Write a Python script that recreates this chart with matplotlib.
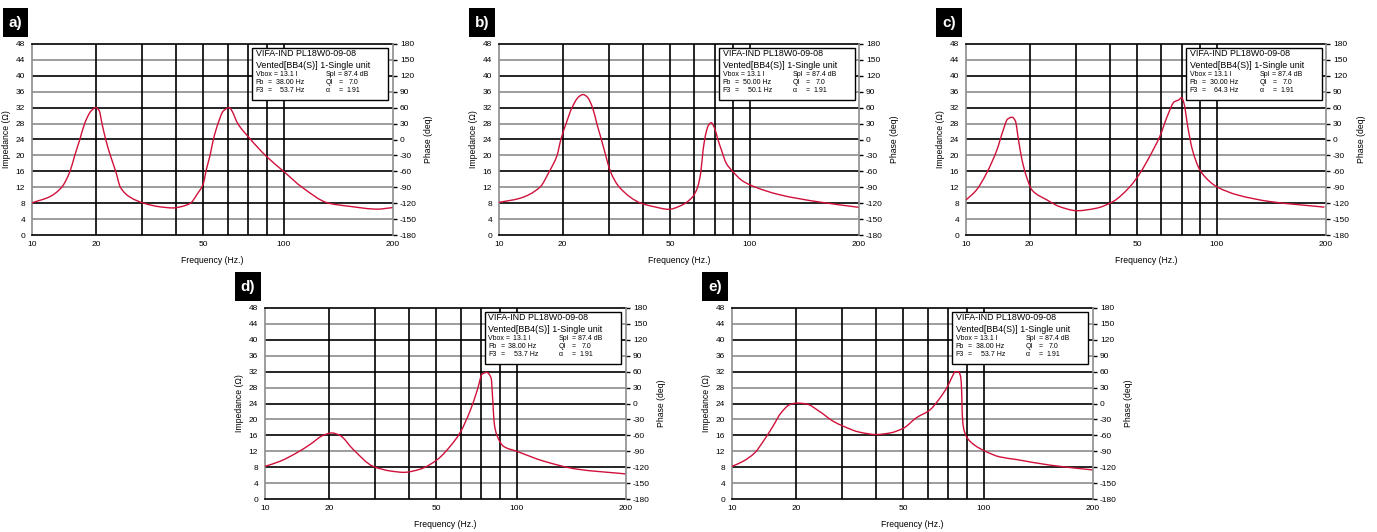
import numpy as np
import matplotlib
matplotlib.use('Agg')
import matplotlib.pyplot as plt
from matplotlib.patches import Rectangle, PathPatch
from matplotlib.path import Path

plt.rcParams['font.family'] = ['Liberation Sans', 'DejaVu Sans']
plt.rcParams['axes.unicode_minus'] = False

# Dados: frequencia (Hz) e impedancia (ohm) de cada painel
freq_a = [10, 12.1, 13.8, 15.1, 15.9, 16.8, 17.7, 19.0, 20.0, 20.6, 21.1, 21.8, 22.7, 23.8, 24.8, 27.0,
          30.4, 34.7, 39.0, 42.0, 44.9, 47.5, 50.0, 50.9, 52.5, 53.8, 55.7, 58.0, 60.6, 62.0, 64.4,
          70.0, 80.0, 100, 112.4, 133, 152, 181, 200]
imp_a = [8.1, 9.6, 12, 16, 20, 24, 28, 31.2, 32, 31.2, 28, 24, 20, 16, 12, 9.5,
         8, 7.1, 6.8, 7.2, 8, 10.3, 13, 16, 20, 24, 28, 31.2, 32, 31.0, 28.2,
         24.7, 19.7, 16, 12, 8, 7.2, 6.5, 6.9]

freq_b = [10, 12.5, 15.6, 17.3, 18.8, 19.6, 20.6, 21.7, 23.0, 23.9, 24.8, 26.0, 27.0, 28.1, 29.2,
          30.4, 32.8, 39.3, 43.9, 49.5, 53.9, 59.2, 61.5, 63.0, 64.1, 65.5, 66.8, 68.2, 70, 71.5,
          73.5, 76.2, 80, 89.4, 100, 121, 152.6, 200]
imp_b = [8.2, 9.2, 12, 16, 20, 24, 28, 32, 34.7, 35.3, 34.7, 32, 28, 24, 20,
         16, 12, 8, 7.1, 6.45, 7.3, 9.6, 12.1, 15.9, 21.4, 25.6, 27.6, 28.2, 26.8, 24.3,
         21.4, 18.0, 15.9, 13.8, 12.6, 10.1, 8.4, 6.95]

freq_c = [10, 11.2, 12.5, 14.0, 15.0, 15.7, 16.5, 17.1, 17.7, 18.4, 19.3, 20.4, 23.3, 26.1, 30.3,
          35.5, 41.0, 47.1, 51.1, 54.9, 59.2, 63.0, 66.2, 68.3, 70, 71.2, 73.2, 75.7, 80, 91.1,
          100, 113.6, 140.2, 198]
imp_c = [8.8, 11.3, 15.5, 21.4, 26.4, 29.1, 29.6, 28.7, 23.9, 18.8, 14.7, 11.3, 8.8, 7.1, 6.1,
         6.7, 8.4, 12.1, 15.5, 19.7, 24.7, 30.2, 33.5, 33.9, 34.5, 33.1, 27.2, 21.4, 16.3, 13.4,
         12.1, 10.1, 8.4, 7.0]

freq_d = [10, 11.8, 14.1, 16.3, 18.8, 20.5, 22.0, 24.8, 29.5, 34.4, 38.2, 43.7, 50.3, 55.3, 59.5,
          64.5, 68.0, 70.5, 72.8, 75.2, 76.2, 76.9, 78.3, 84.4, 100, 118.9, 146.7, 200]
imp_d = [8.2, 9.5, 11.6, 13.7, 16.0, 16.6, 16.0, 12.4, 8.2, 7.0, 6.7, 7.5, 9.9, 13.2, 16.6,
         22.4, 27.5, 31.4, 31.8, 30.4, 24.1, 19.1, 16.2, 13.2, 12.0, 9.5, 7.5, 6.3]

freq_e = [10, 11.3, 12.8, 14.2, 15.6, 17.0, 18.7, 20.1, 21.9, 24.6, 27.8, 30.3, 34.7, 40, 44.8,
          50, 55.0, 60.9, 65.6, 70, 72.5, 73.6, 75.3, 76.6, 77.2, 77.4, 78.1, 80, 88.4, 101.6,
          110.6, 123.5, 152.5, 200]
imp_e = [8.2, 9.5, 11.6, 14.9, 18.3, 21.6, 23.7, 24.1, 23.9, 22.0, 19.5, 18.3, 16.8, 16.2, 16.6,
         17.8, 20.4, 22.4, 25.3, 28.6, 31.2, 32.0, 32.0, 30.7, 26.5, 22.4, 18.2, 15.6, 13.6, 11.9,
         10.6, 9.9, 8.5, 7.3]

letras = ['a)', 'b)', 'c)', 'd)', 'e)']
fb_txt = ['38.00', '50.00', '30.00', '38.00', '38.00']
f3_txt = ['53.7', '50.1', '64.3', '53.7', '53.7']
freqs = [freq_a, freq_b, freq_c, freq_d, freq_e]
imps = [imp_a, imp_b, imp_c, imp_d, imp_e]

x_ticks = [10, 20, 50, 100, 200]
x_grid = [20, 30, 40, 50, 60, 70, 80, 100]
imp_ticks = list(range(0, 49, 4))
fase_ticks = list(range(-180, 181, 30))

# Escala do eixo x (log distorcido como no grafico original)
knot_f = np.log10([10, 20, 30, 40, 50, 60, 70, 80, 100, 200])
knot_p = np.array([0, .177, .305, .400, .475, .543, .599, .650, .697, 1.0])


def fwd(x):
    x = np.clip(np.asarray(x, dtype=float), 1e-6, None)
    return np.interp(np.log10(x), knot_f, knot_p)


def inv(p):
    return 10 ** np.interp(np.asarray(p, dtype=float), knot_p, knot_f)


def curva_suave(f, z):
    # caminho Bezier (tangentes monotonas) no espaco da escala; so desenho
    x = fwd(f)
    y = np.asarray(z, dtype=float)
    h = np.diff(x)
    d = np.diff(y) / h
    m = np.zeros_like(y)
    m[0], m[-1] = d[0], d[-1]
    for k in range(1, len(y) - 1):
        if d[k - 1] * d[k] > 0:
            w1 = 2 * h[k] + h[k - 1]
            w2 = h[k] + 2 * h[k - 1]
            m[k] = (w1 + w2) / (w1 / d[k - 1] + w2 / d[k])
    verts = [(inv(x[0]), y[0])]
    codes = [Path.MOVETO]
    for k in range(len(h)):
        c1 = (inv(x[k] + h[k] / 3), y[k] + m[k] * h[k] / 3)
        c2 = (inv(x[k + 1] - h[k] / 3), y[k + 1] - m[k + 1] * h[k] / 3)
        verts += [c1, c2, (inv(x[k + 1]), y[k + 1])]
        codes += [Path.CURVE4] * 3
    return Path(verts, codes)


W, H = 1377, 532
fig = plt.figure(figsize=(W / 100, H / 100), dpi=100)

# posicoes dos paineis em pixels (esquerda, topo, largura, altura)
caixas = [(32, 44, 361, 191), (499, 44, 360, 191), (966, 44, 360, 191),
          (265, 308, 361, 191), (732, 308, 361, 191)]

cinza = '#8c8c8c'
vermelho = '#d0103a'

for i, (l, t, w, h) in enumerate(caixas):
    ax = fig.add_axes([l / W, 1 - (t + h) / H, w / W, h / H])
    ax.set_xscale('function', functions=(fwd, inv))
    ax.set_xlim(10, 200)
    ax.set_ylim(0, 48)

    for v in imp_ticks[1:-1]:
        cor = 'black' if v % 8 == 0 else cinza
        ax.axhline(v, color=cor, lw=1.2, zorder=1)
    for f in x_grid:
        ax.axvline(f, color='black', lw=1.2, zorder=1)

    ax.add_patch(PathPatch(curva_suave(freqs[i], imps[i]), facecolor='none',
                           edgecolor=vermelho, lw=1.0, zorder=3))

    ax.set_xticks(x_ticks, [str(v) for v in x_ticks])
    ax.set_yticks(imp_ticks)
    ax.tick_params(axis='x', length=0, pad=4, labelsize=6)
    ax.tick_params(axis='y', length=0, pad=5, labelsize=6)
    ax.minorticks_off()
    ax.set_xlabel('Frequency (Hz.)', fontsize=6.2)
    ax.set_ylabel('Impedance (\u03a9)', fontsize=6.2)
    ax.xaxis.set_label_coords(0.5, -21 / h)
    ax.yaxis.set_label_coords(-21 / w, 0.5)
    ax.spines['top'].set_color('black')
    ax.spines['bottom'].set_color('black')
    ax.spines['left'].set_color(cinza)
    ax.spines['right'].set_visible(False)
    for s in ax.spines.values():
        s.set_linewidth(1.2)

    ax2 = ax.twinx()
    ax2.set_ylim(-180, 180)
    ax2.set_yticks(fase_ticks)
    ax2.tick_params(axis='y', length=3, width=1, color='black', pad=2, labelsize=6)
    ax2.set_ylabel('Phase (deq)', fontsize=6.2)
    ax2.yaxis.set_label_coords(1 + 31 / w, 0.5)
    for s in ['left', 'top', 'bottom']:
        ax2.spines[s].set_visible(False)
    ax2.spines['right'].set_color(cinza)
    ax2.spines['right'].set_linewidth(1.2)

    # caixa de informacoes
    bx0, bx1, by0, by1 = 220, 356, 4, 56
    ax2.add_patch(Rectangle((bx0 / w, 1 - by1 / h), (bx1 - bx0) / w, (by1 - by0) / h,
                            transform=ax2.transAxes, facecolor='white', edgecolor='black',
                            lw=1.0, zorder=5, clip_on=False))

    def txt(px, py, s, size):
        ax2.text(px / w, 1 - py / h, s, transform=ax2.transAxes, fontsize=size,
                 va='center', ha='left', zorder=6)

    txt(223.5, 10, 'VIFA-IND PL18W0-09-08', 6.4)
    txt(223.5, 21, 'Vented[BB4(S)] 1-Single unit', 6.4)
    txt(223.5, 30.5, 'Vbox =', 5.0)
    txt(248, 30.5, '13.1 l', 5.0)
    txt(294, 30.5, 'Spl', 5.0)
    txt(306.5, 30.5, '= 87.4 dB', 5.0)
    txt(223.5, 38.5, 'Fb', 5.0)
    txt(236, 38.5, '=', 5.0)
    txt(243.5, 38.5, fb_txt[i] + ' Hz', 5.0)
    txt(294, 38.5, 'Ql', 5.0)
    txt(306.5, 38.5, '=', 5.0)
    txt(316.5, 38.5, '7.0', 5.0)
    txt(223.5, 47, 'F3', 5.0)
    txt(236, 47, '=', 5.0)
    txt(248.5, 47, f3_txt[i] + ' Hz', 5.0)
    txt(294, 47, '\u03b1', 5.0)
    txt(306.5, 47, '=', 5.0)
    txt(314.5, 47, '1.91', 5.0)

    # etiqueta da letra do painel
    rx0, rx1, ry0, ry1 = max(l - 30, 3), l - 4, t - 36, t - 7
    fig.add_artist(Rectangle((rx0 / W, 1 - ry1 / H), (rx1 - rx0) / W, (ry1 - ry0) / H,
                             transform=fig.transFigure, facecolor='black', edgecolor='none'))
    fig.text((rx0 + rx1) / 2 / W, 1 - (ry0 + ry1) / 2 / H, letras[i], color='white',
             fontsize=11, fontweight='bold', ha='center', va='center')

fig.savefig('out.png', dpi=100)
